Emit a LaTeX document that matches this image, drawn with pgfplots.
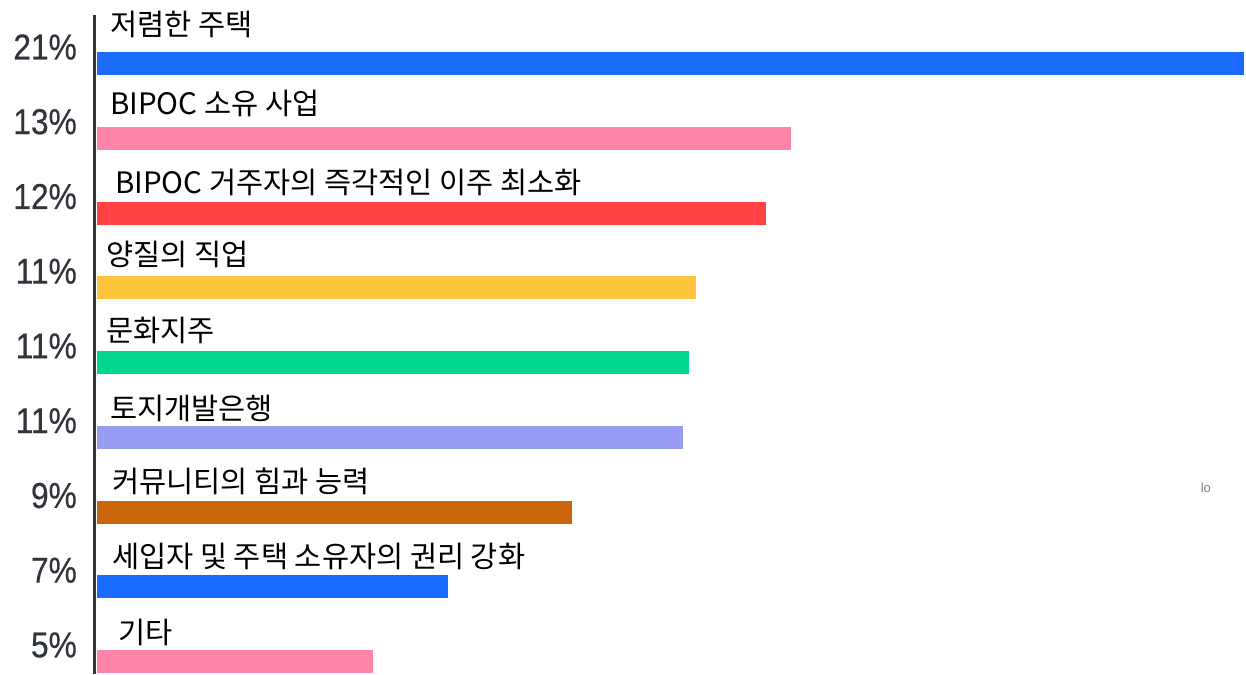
\documentclass[border=0pt]{standalone}
\usepackage{pgfplots}
\pgfplotsset{compat=1.18}
\usepackage{fontspec}
\setmainfont{Noto Sans CJK KR}
\newfontfamily\pctfont[FakeStretch=0.88,FakeBold=0.4]{Liberation Sans}
\newfontfamily\latinfont{Liberation Sans}
\definecolor{cblue}{HTML}{1A6CFF}
\definecolor{cpink}{HTML}{FF85A8}
\definecolor{cred}{HTML}{FF4242}
\definecolor{cyellow}{HTML}{FFC53B}
\definecolor{cgreen}{HTML}{00D68F}
\definecolor{clav}{HTML}{979DF2}
\definecolor{cbrown}{HTML}{CC660A}
\definecolor{pctgray}{HTML}{30343B}
\definecolor{axgray}{HTML}{33363C}
\begin{document}
\begin{tikzpicture}
\begin{axis}[
  at={(94.5pt,0pt)}, anchor=south west,
  scale only axis, width=1151.5pt, height=659pt,
  xmin=-0.046, xmax=21.036, ymin=-0.1672, ymax=8.649,
  axis line style={draw=none},
  xtick=\empty,
  ytick={0,1,2,3,4,5,6,7,8},
  yticklabels={5\%,7\%,9\%,11\%,11\%,11\%,12\%,13\%,21\%},
  major tick length=0pt,
  tick style={draw=none},
  yticklabel style={font=\pctfont\fontsize{36}{36}\selectfont, text=pctgray, inner sep=0pt, xshift=-17.5pt, yshift=16.5pt},
  clip=false,
]
\addplot[xbar, bar shift=0pt, bar width=23pt, fill=cblue, draw=none] coordinates {(21.00,8)};
\addplot[xbar, bar shift=0pt, bar width=23pt, fill=cpink, draw=none] coordinates {(12.71,7)};
\addplot[xbar, bar shift=0pt, bar width=23pt, fill=cred, draw=none] coordinates {(12.25,6)};
\addplot[xbar, bar shift=0pt, bar width=23pt, fill=cyellow, draw=none] coordinates {(10.97,5)};
\addplot[xbar, bar shift=0pt, bar width=23pt, fill=cgreen, draw=none] coordinates {(10.84,4)};
\addplot[xbar, bar shift=0pt, bar width=23pt, fill=clav, draw=none] coordinates {(10.73,3)};
\addplot[xbar, bar shift=0pt, bar width=23pt, fill=cbrown, draw=none] coordinates {(8.70,2)};
\addplot[xbar, bar shift=0pt, bar width=23pt, fill=cblue, draw=none] coordinates {(6.43,1)};
\addplot[xbar, bar shift=0pt, bar width=23pt, fill=cpink, draw=none] coordinates {(5.05,0)};
\draw[line width=3pt, axgray] (rel axis cs:0,0) -- (rel axis cs:0,1);
\tikzset{lab/.style={anchor=base west, inner sep=0pt, font=\fontsize{29.5}{29.5}\selectfont, text=black}}
\node[lab, xshift=13pt, yshift=28pt] at (axis cs:0,8) {저렴한 주택};
\node[lab, xshift=13pt, yshift=24pt] at (axis cs:0,7) {BIPOC 소유 사업};
\node[lab, xshift=18pt, yshift=20pt] at (axis cs:0,6) {BIPOC 거주자의 즉각적인 이주 최소화};
\node[lab, xshift=9pt, yshift=22pt] at (axis cs:0,5) {양질의 직업};
\node[lab, xshift=9pt, yshift=21pt] at (axis cs:0,4) {문화지주};
\node[lab, xshift=13pt, yshift=18pt] at (axis cs:0,3) {토지개발은행};
\node[lab, xshift=15pt, yshift=20pt] at (axis cs:0,2) {커뮤니티의 힘과 능력};
\node[lab, xshift=15pt, yshift=19.5pt] at (axis cs:0,1) {세입자 및 주택 소유자의 권리 강화};
\node[lab, xshift=21pt, yshift=18pt] at (axis cs:0,0) {기타};
\node[font=\latinfont\fontsize{13}{13}\selectfont, text=gray] at (axis cs:20.3,2.32) {lo};
\end{axis}
\pgfresetboundingbox
\path[use as bounding box] (0,0) rectangle (1246pt,674pt);
\end{tikzpicture}
\end{document}
